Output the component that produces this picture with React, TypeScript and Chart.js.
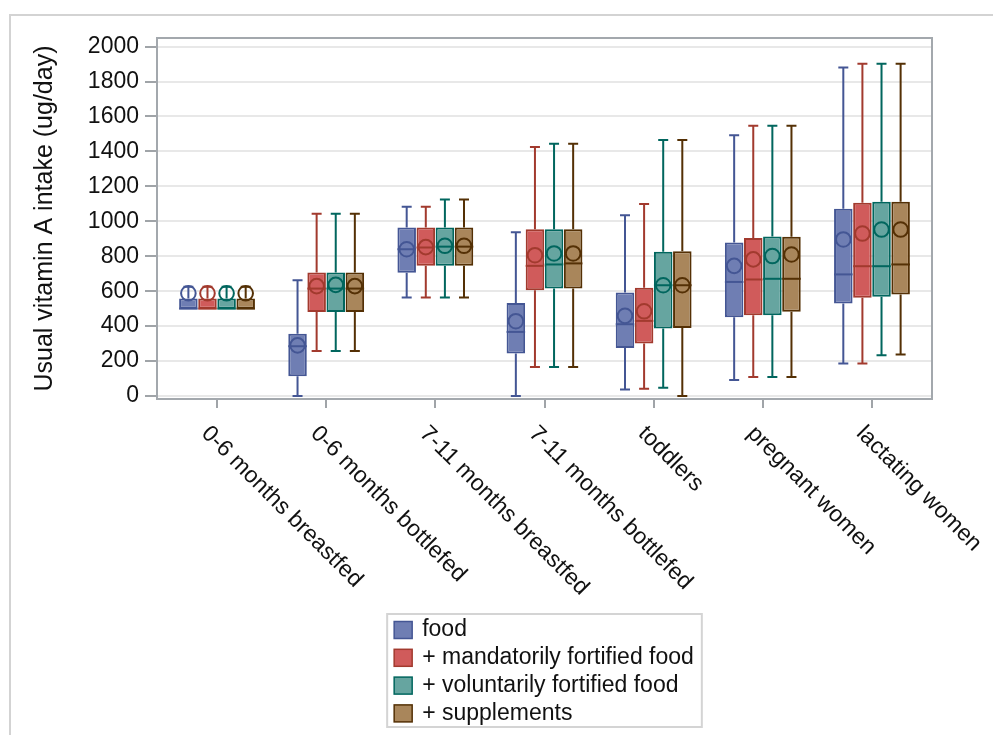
import { useEffect, useRef } from "react";
import { Chart, registerables } from "chart.js";

Chart.register(...registerables);

const categories = [
  "0-6 months breastfed",
  "0-6 months bottlefed",
  "7-11 months breastfed",
  "7-11 months bottlefed",
  "toddlers",
  "pregnant women",
  "lactating women",
];

const seriesNames = [
  "food",
  "+ mandatorily fortified food",
  "+ voluntarily fortified food",
  "+ supplements",
];

const fillColors = ["#6F7EB3", "#D05B5B", "#66A5A0", "#A9865B"];
const lineColors = ["#445694", "#A23A2E", "#01665E", "#543005"];

const yTicks = [0, 200, 400, 600, 800, 1000, 1200, 1400, 1600, 1800, 2000];

// each entry: [min, q1, median, q3, max, mean]
const foodStats = [
  [500, 500, 500, 558, 625, 588],
  [0, 113, 285, 357, 663, 290],
  [564, 705, 840, 965, 1083, 840],
  [0, 243, 367, 533, 937, 428],
  [38, 275, 411, 592, 1034, 459],
  [92, 451, 653, 879, 1492, 745],
  [186, 529, 696, 1072, 1880, 896],
];
const mandatoryStats = [
  [500, 500, 500, 558, 625, 588],
  [258, 481, 615, 707, 1043, 629],
  [564, 745, 850, 965, 1083, 852],
  [166, 606, 745, 954, 1425, 806],
  [42, 300, 430, 619, 1099, 485],
  [109, 462, 667, 905, 1547, 782],
  [186, 562, 743, 1106, 1901, 930],
];
const voluntaryStats = [
  [500, 500, 500, 558, 625, 588],
  [258, 481, 615, 707, 1043, 636],
  [564, 745, 855, 965, 1125, 860],
  [166, 615, 753, 954, 1444, 816],
  [48, 386, 634, 826, 1465, 634],
  [109, 462, 671, 913, 1547, 801],
  [233, 568, 743, 1112, 1901, 953],
];
const supplementStats = [
  [500, 500, 500, 558, 625, 588],
  [258, 481, 615, 707, 1043, 629],
  [564, 745, 855, 965, 1125, 860],
  [166, 615, 759, 954, 1444, 816],
  [0, 390, 634, 829, 1465, 634],
  [109, 482, 671, 911, 1547, 810],
  [237, 581, 753, 1112, 1901, 953],
];

const allStats = [foodStats, mandatoryStats, voluntaryStats, supplementStats];

const FONT = '"Liberation Sans", Arial, sans-serif';

const boxPlugin = {
  id: "boxExtras",
  beforeDatasetsDraw(chart: any) {
    const ctx = chart.ctx;
    const y = chart.scales.y;
    ctx.save();
    chart.data.datasets.forEach((ds: any, d: number) => {
      const meta = chart.getDatasetMeta(d);
      const stats = ds.stats as number[][];
      meta.data.forEach((el: any, i: number) => {
        const { x } = el.getProps(["x"], true);
        const s = stats[i];
        const capHalf = 5;
        ctx.strokeStyle = lineColors[d];
        ctx.lineWidth = 2;
        ctx.beginPath();
        ctx.moveTo(x, y.getPixelForValue(s[3]));
        ctx.lineTo(x, y.getPixelForValue(s[4]));
        ctx.moveTo(x - capHalf, y.getPixelForValue(s[4]));
        ctx.lineTo(x + capHalf, y.getPixelForValue(s[4]));
        if (s[0] < s[1]) {
          ctx.moveTo(x, y.getPixelForValue(s[1]));
          ctx.lineTo(x, y.getPixelForValue(s[0]));
          ctx.moveTo(x - capHalf, y.getPixelForValue(s[0]));
          ctx.lineTo(x + capHalf, y.getPixelForValue(s[0]));
        }
        ctx.stroke();
      });
    });
    ctx.restore();
  },
  afterDatasetsDraw(chart: any) {
    const ctx = chart.ctx;
    const y = chart.scales.y;
    ctx.save();
    chart.data.datasets.forEach((ds: any, d: number) => {
      const meta = chart.getDatasetMeta(d);
      const stats = ds.stats as number[][];
      meta.data.forEach((el: any, i: number) => {
        const { x, width } = el.getProps(["x", "width"], true);
        const s = stats[i];
        ctx.strokeStyle = lineColors[d];
        ctx.lineWidth = 2;
        const my = y.getPixelForValue(s[2]);
        ctx.beginPath();
        ctx.moveTo(x - width / 2, my);
        ctx.lineTo(x + width / 2, my);
        ctx.stroke();
        ctx.beginPath();
        ctx.arc(x, y.getPixelForValue(s[5]), 7.3, 0, Math.PI * 2);
        ctx.stroke();
      });
    });
    ctx.restore();
  },
  afterDraw(chart: any) {
    const ctx = chart.ctx;
    const ca = chart.chartArea;
    const xs = chart.scales.x;
    ctx.save();
    ctx.strokeStyle = "#a3a8ad";
    ctx.lineWidth = 2;
    ctx.strokeRect(ca.left, ca.top, ca.right - ca.left, ca.bottom - ca.top);

    ctx.fillStyle = "#111";
    ctx.font = `23px ${FONT}`;
    ctx.textAlign = "left";
    ctx.textBaseline = "middle";
    categories.forEach((c, i) => {
      const px = xs.getPixelForValue(i);
      ctx.save();
      ctx.translate(px - 12, ca.bottom + 31);
      ctx.rotate(Math.PI / 4);
      ctx.fillText(c, 0, 0);
      ctx.restore();
    });

    const maxW = Math.max(...seriesNames.map((n) => ctx.measureText(n).width));
    const boxW = 35 + maxW + 8;
    const cx = (ca.left + ca.right) / 2;
    const bx = cx - boxW / 2;
    const by = ca.bottom + 215;
    const rowH = 27.8;
    const boxH = 113;
    ctx.strokeStyle = "#d4d4d4";
    ctx.lineWidth = 2;
    ctx.strokeRect(bx, by, boxW, boxH);
    seriesNames.forEach((n, i) => {
      const ry = by + 16 + i * rowH;
      ctx.fillStyle = fillColors[i];
      ctx.fillRect(bx + 7, ry - 8.5, 18, 17);
      ctx.strokeStyle = lineColors[i];
      ctx.lineWidth = 1.5;
      ctx.strokeRect(bx + 7, ry - 8.5, 18, 17);
      ctx.fillStyle = "#111";
      ctx.fillText(n, bx + 35, ry);
    });
    ctx.restore();
  },
};

export default function App() {
  const ref = useRef<HTMLCanvasElement | null>(null);

  useEffect(() => {
    if (!ref.current) return;
    const chart = new Chart(ref.current, {
      type: "bar",
      data: {
        datasets: seriesNames.map((name, d) => ({
          label: name,
          data: allStats[d].map((s, i) => ({ x: i, y: [s[1], s[3]] })),
          stats: allStats[d],
          backgroundColor: fillColors[d],
          borderColor: lineColors[d],
          borderWidth: 2,
          borderSkipped: false,
          categoryPercentage: 0.7,
          barPercentage: 0.97,
        })) as any,
      },
      options: {
        animation: false,
        responsive: false,
        maintainAspectRatio: false,
        layout: { padding: { left: 0, top: 38, right: 61, bottom: 0 } },
        plugins: {
          legend: { display: false },
          tooltip: { enabled: false },
        },
        scales: {
          x: {
            type: "linear",
            min: -0.55,
            max: 6.55,
            offset: false,
            afterBuildTicks: (s: any) => {
              s.ticks = categories.map((_, i) => ({ value: i }));
            },
            grid: {
              display: true,
              offset: false,
              drawOnChartArea: false,
              drawTicks: true,
              tickLength: 9,
              tickColor: "#a0a4a8",
              lineWidth: 2,
            },
            border: { display: false },
            ticks: { display: false },
            afterFit: (s: any) => {
              s.height = 735 - 399;
            },
          },
          y: {
            type: "linear",
            min: -17,
            max: 2049,
            afterBuildTicks: (s: any) => {
              s.ticks = yTicks.map((v) => ({ value: v }));
            },
            grid: {
              color: "#e8e8e8",
              lineWidth: 2,
              tickLength: 12,
              tickColor: "#a0a4a8",
            },
            border: { display: false },
            ticks: {
              font: { family: FONT, size: 23 },
              color: "#111",
              padding: 6,
              callback: (v: any) => String(v),
            },
            title: {
              display: true,
              text: "Usual vitamin A intake (ug/day)",
              font: { family: FONT, size: 25 },
              color: "#111",
              padding: { top: 30, bottom: 0 },
            },
            afterFit: (s: any) => {
              s.width = 157;
            },
          },
        },
      } as any,
      plugins: [boxPlugin],
    });
    return () => chart.destroy();
  }, []);

  return (
    <div style={{ position: "absolute", left: 0, top: 0, width: 993, height: 735, background: "#fff", overflow: "hidden" }}>
      <div
        style={{
          position: "absolute",
          left: 9,
          top: 14,
          width: 1000,
          height: 740,
          borderTop: "2px solid #d3d3d3",
          borderLeft: "2px solid #d3d3d3",
        }}
      />
      <canvas ref={ref} width={993} height={735} style={{ position: "absolute", left: 0, top: 0, display: "block" }} />
    </div>
  );
}
